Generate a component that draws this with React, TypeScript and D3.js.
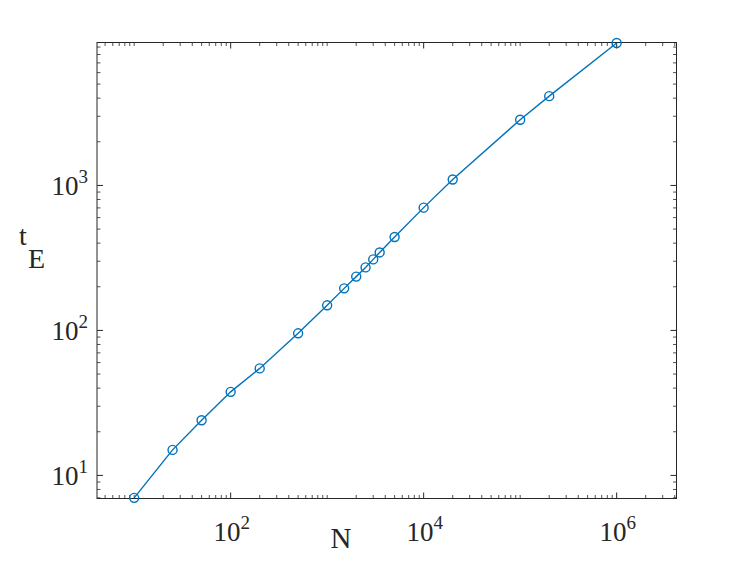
import React from "react";
import * as d3 from "d3";

// Data (log-log)
const N: number[] = [10, 25, 50, 100, 200, 500, 1000, 1500, 2000, 2500, 3000, 3500, 5000, 10000, 20000, 100000, 200000, 1000000];
const tE: number[] = [7, 15, 24, 37.7, 54.7, 95.5, 149, 195, 235, 272, 309, 345, 441, 703, 1099, 2840, 4130, 9600];

const xMajorTicks: number[] = [1e2, 1e4, 1e6];
const xMajorExp: string[] = ["2", "4", "6"];
const yMajorTicks: number[] = [1e1, 1e2, 1e3];
const yMajorExp: string[] = ["1", "2", "3"];

const xDomain: [number, number] = [4.12, 4.17e6];
const yDomain: [number, number] = [6.93, 9680];

const W = 747;
const H = 561;
const L = 97, R = 676.5, T = 42.5, B = 498.5;
const BLUE = "#0072BD";
const AX = "#262626";
const FONT = "Liberation Serif";

function minorTicks(domain: [number, number], majors: number[]): number[] {
  const out: number[] = [];
  const lo = Math.floor(Math.log10(domain[0]));
  const hi = Math.ceil(Math.log10(domain[1]));
  for (let e = lo; e <= hi; e++) {
    for (let m = 1; m <= 9; m++) {
      const v = m * Math.pow(10, e);
      if (v >= domain[0] && v <= domain[1] && !majors.some((t) => Math.abs(t - v) / v < 1e-9)) out.push(v);
    }
  }
  return out;
}

export default function App() {
  const x = d3.scaleLog().domain(xDomain).range([L, R]);
  const y = d3.scaleLog().domain(yDomain).range([B, T]);
  const line = d3
    .line<number>()
    .x((_, i) => x(N[i]))
    .y((d) => y(d));

  const xMinor = minorTicks(xDomain, xMajorTicks);
  const yMinor = minorTicks(yDomain, yMajorTicks);
  const majLen = 6;
  const minLen = 3.5;

  return (
    <svg width={W} height={H} style={{ position: "absolute", left: 0, top: 0, background: "#fff" }}>
      <rect x={0} y={0} width={W} height={H} fill="#fff" />
      <rect x={L} y={T} width={R - L} height={B - T} fill="#fff" />
      {/* x ticks */}
      {xMinor.map((v, i) => (
        <g key={"xm" + i} stroke={AX} strokeWidth={0.8}>
          <line x1={x(v)} x2={x(v)} y1={B} y2={B - minLen} />
          <line x1={x(v)} x2={x(v)} y1={T} y2={T + minLen} />
        </g>
      ))}
      {xMajorTicks.map((v, i) => (
        <g key={"xM" + i} stroke={AX} strokeWidth={1}>
          <line x1={x(v)} x2={x(v)} y1={B} y2={B - majLen} />
          <line x1={x(v)} x2={x(v)} y1={T} y2={T + majLen} />
        </g>
      ))}
      {/* y ticks */}
      {yMinor.map((v, i) => (
        <g key={"ym" + i} stroke={AX} strokeWidth={0.8}>
          <line x1={L} x2={L + minLen} y1={y(v)} y2={y(v)} />
          <line x1={R} x2={R - minLen} y1={y(v)} y2={y(v)} />
        </g>
      ))}
      {yMajorTicks.map((v, i) => (
        <g key={"yM" + i} stroke={AX} strokeWidth={1}>
          <line x1={L} x2={L + majLen} y1={y(v)} y2={y(v)} />
          <line x1={R} x2={R - majLen} y1={y(v)} y2={y(v)} />
        </g>
      ))}
      {/* box */}
      <rect x={L} y={T} width={R - L} height={B - T} fill="none" stroke={AX} strokeWidth={1} />
      {/* tick labels */}
      {xMajorTicks.map((v, i) => (
        <text key={"xl" + i} x={x(v) + 1} y={541} textAnchor="middle" fontFamily={FONT} fontSize={27} fill={AX}>
          10
          <tspan dy={-12} fontSize={19}>{xMajorExp[i]}</tspan>
        </text>
      ))}
      {yMajorTicks.map((v, i) => (
        <text key={"yl" + i} x={88} y={y(v) + 10} textAnchor="end" fontFamily={FONT} fontSize={27} fill={AX}>
          10
          <tspan dy={-12} fontSize={19}>{yMajorExp[i]}</tspan>
        </text>
      ))}
      {/* axis labels */}
      <text x={341} y={548} textAnchor="middle" fontFamily={FONT} fontSize={29} fill={AX}>
        N
      </text>
      <text x={19} y={245} fontFamily={FONT} fontSize={28} fill={AX}>
        t
      </text>
      <text x={28} y={268} fontFamily={FONT} fontSize={28} fill={AX}>
        E
      </text>
      {/* data */}
      <path d={line(tE) || ""} fill="none" stroke={BLUE} strokeWidth={1.4} />
      {tE.map((v, i) => (
        <circle key={"p" + i} cx={x(N[i])} cy={y(v)} r={4.5} fill="none" stroke={BLUE} strokeWidth={1.4} />
      ))}
    </svg>
  );
}
